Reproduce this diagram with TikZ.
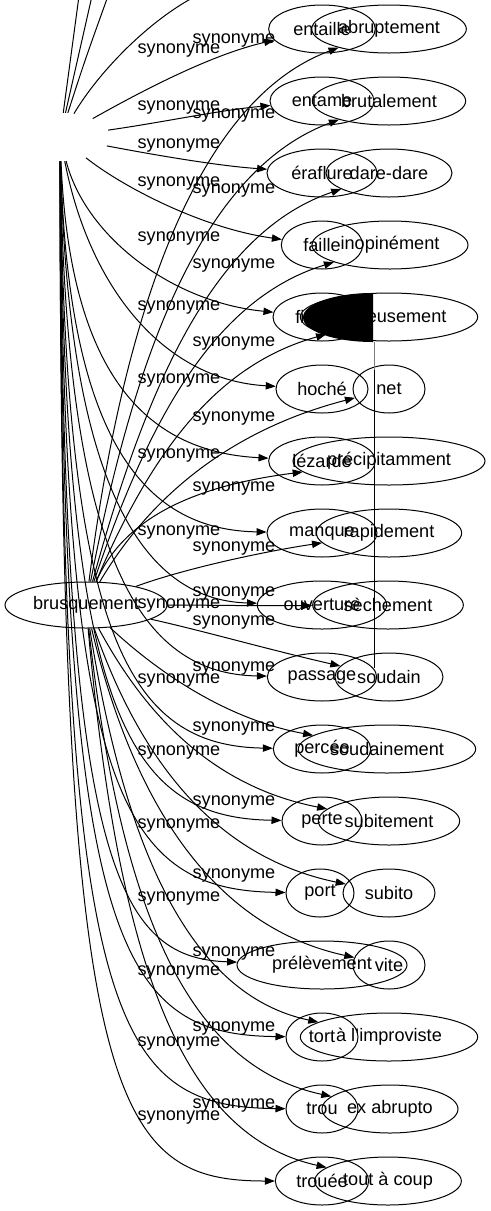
\documentclass[tikz,border=0pt]{standalone}
\usepackage{fontspec}
\setmainfont{Liberation Sans}
\usetikzlibrary{arrows.meta,shapes.geometric}
\tikzstyle{leaf} = [ellipse, draw, line width=0.75pt, minimum height=36pt, inner sep=0pt, font=\fontsize{13.6}{16}\selectfont]
\tikzstyle{hub} = [ellipse, minimum width=75pt, minimum height=36pt, inner sep=0pt]
\tikzstyle{lbl} = [inner sep=0pt, font=\fontsize{13.6}{16}\selectfont]
\tikzstyle{syn} = [line width=0.75pt, -{Triangle[length=7.5pt,width=5.5pt]}]
\tikzstyle{plain} = [line width=0.75pt]
\newcommand{\nw}[1]{\makebox[0pt]{#1}}

\begin{document}
\begin{tikzpicture}[x=0.75pt,y=-0.75pt]
\useasboundingbox (0,0) rectangle (491,1211);
% centres
\node[hub] (hub) at (60,137) {};
\node[leaf, minimum width=121.5pt, minimum height=34.5pt] (brusq) at (86,605) {\nw{brusquement}};
% noun column
\node[leaf, minimum width=80pt] (n1) at (322,29) {\nw{entaille}};
\node[leaf, minimum width=78pt] (n2) at (322,101) {\nw{entame}};
\node[leaf, minimum width=82.5pt] (n3) at (322,173) {\nw{éraflure}};
\node[leaf, minimum width=61pt] (n4) at (322,245) {\nw{faille}};
\node[leaf, minimum width=73.5pt] (n5) at (322,317) {\nw{fissure}};
\node[leaf, minimum width=69pt] (n6) at (322,389) {\nw{hoché}};
\node[leaf, minimum width=80pt] (n7) at (322,461) {\nw{lézarde}};
\node[leaf, minimum width=82.5pt] (n8) at (322,533) {\nw{manque}};
\node[leaf, minimum width=97pt] (n9) at (322,605) {\nw{ouverture}};
\node[leaf, minimum width=82pt] (n10) at (322,677) {\nw{passage}};
\node[leaf, minimum width=73pt] (n11) at (322,749) {\nw{percée}};
\node[leaf, minimum width=60pt] (n12) at (322,821) {\nw{perte}};
\node[leaf, minimum width=51pt] (n13) at (320,893) {\nw{port}};
\node[leaf, minimum width=127.5pt] (n14) at (322,965) {\nw{prélèvement}};
\node[leaf, minimum width=54pt] (n15) at (322,1037) {\nw{tort}};
\node[leaf, minimum width=54pt] (n16) at (322,1109) {\nw{trou}};
\node[leaf, minimum width=70pt] (n17) at (322,1181) {\nw{trouée}};
% adverb column
\node[leaf, minimum width=116pt] (r1) at (389,29) {\nw{abruptement}};
\node[leaf, minimum width=115pt] (r2) at (389,101) {\nw{brutalement}};
\node[leaf, minimum width=94.5pt] (r3) at (389,173) {\nw{dare-dare}};
\node[leaf, minimum width=117pt] (r4) at (390,245) {\nw{inopinément}};
\node[leaf, minimum width=133pt] (r5) at (389,317) {\nw{nerveusement}};
\node[leaf, minimum width=54pt] (r6) at (389,389) {\nw{net}};
\node[leaf, minimum width=144pt] (r7) at (389,461) {\nw{précipitamment}};
\node[leaf, minimum width=109pt] (r8) at (389,533) {\nw{rapidement}};
\node[leaf, minimum width=113pt] (r9) at (388,605) {\nw{sèchement}};
\node[leaf, minimum width=81pt] (r10) at (389,677) {\nw{soudain}};
\node[leaf, minimum width=133pt] (r11) at (387,749) {\nw{soudainement}};
\node[leaf, minimum width=106pt] (r12) at (389,821) {\nw{subitement}};
\node[leaf, minimum width=69pt] (r13) at (389,893) {\nw{subito}};
\node[leaf, minimum width=54pt] (r14) at (389,965) {\nw{vite}};
\node[leaf, minimum width=133pt] (r15) at (389,1037) {\nw{à l'improviste}};
\node[leaf, minimum width=102pt] (r16) at (390,1109) {\nw{ex abrupto}};
\node[leaf, minimum width=110pt] (r17) at (388,1181) {\nw{tout à coup}};
% edge labels
\node[lbl] (la1) at (179,50) {synonyme};
\node[lbl] (la2) at (179,107) {synonyme};
\node[lbl] (la3) at (179,145) {synonyme};
\node[lbl] (la4) at (179,183) {synonyme};
\node[lbl] (la5) at (179,238) {synonyme};
\node[lbl] (la6) at (179,307) {synonyme};
\node[lbl] (la7) at (179,380) {synonyme};
\node[lbl] (la8) at (179,455) {synonyme};
\node[lbl] (la9) at (179,532) {synonyme};
\node[lbl] (la10) at (179,605) {synonyme};
\node[lbl] (la11) at (179,680) {synonyme};
\node[lbl] (la12) at (179,752) {synonyme};
\node[lbl] (la13) at (179,825) {synonyme};
\node[lbl] (la14) at (179,898) {synonyme};
\node[lbl] (la15) at (179,972) {synonyme};
\node[lbl] (la16) at (179,1043) {synonyme};
\node[lbl] (la17) at (179,1117) {synonyme};
\node[lbl] (lb1) at (234,40) {synonyme};
\node[lbl] (lb2) at (234,115) {synonyme};
\node[lbl] (lb3) at (234,190) {synonyme};
\node[lbl] (lb4) at (234,265) {synonyme};
\node[lbl] (lb5) at (234,343) {synonyme};
\node[lbl] (lb6) at (234,418) {synonyme};
\node[lbl] (lb7) at (234,488) {synonyme};
\node[lbl] (lb8) at (234,548) {synonyme};
\node[lbl] (lb9) at (234,593) {synonyme};
\node[lbl] (lb10) at (234,622) {synonyme};
\node[lbl] (lb11) at (234,668) {synonyme};
\node[lbl] (lb12) at (234,728) {synonyme};
\node[lbl] (lb13) at (234,802) {synonyme};
\node[lbl] (lb14) at (234,875) {synonyme};
\node[lbl] (lb15) at (234,953) {synonyme};
\node[lbl] (lb16) at (234,1028) {synonyme};
\node[lbl] (lb17) at (234,1105) {synonyme};
% lines leaving the top
\coordinate (up1) at (79,-4);
\coordinate (up2) at (92,-4);
\coordinate (up3) at (108,-4);
\coordinate (up4) at (196,-4);
\draw[plain] (hub) -- (up1);
\draw[plain] (hub) -- (up2);
\draw[plain] (hub) .. controls (85,60) .. (up3);
\draw[plain] (hub) .. controls (100,70) and (150,20) .. (up4);
% hub to nouns
\draw[syn] (hub) .. controls (140,92) and (210,55) .. (n1);
\draw[syn] (hub) .. controls (165,122) and (220,110) .. (n2);
\draw[syn] (hub) .. controls (160,156) and (220,166) .. (n3);
\draw[syn] (hub) .. controls (120,185) and (200,228) .. (n4);
\draw[syn] (hub) .. controls (85,235) and (170,302) .. (n5);
\draw[syn] (hub) .. controls (90,290) and (165,380) .. (n6);
\draw[syn] (hub) .. controls (70,380) and (150,452) .. (n7);
\draw[syn] (hub) .. controls (68,450) and (150,530) .. (n8);
\draw[syn] (hub) .. controls (68,480) and (140,600) .. (n9);
\draw[syn] (hub) .. controls (66,560) and (140,674) .. (n10);
\draw[syn] (hub) .. controls (65,640) and (130,746) .. (n11);
\draw[syn] (hub) .. controls (64,710) and (125,818) .. (n12);
\draw[syn] (hub) .. controls (63,790) and (120,890) .. (n13);
\draw[syn] (hub) .. controls (62,860) and (115,958) .. (n14);
\draw[syn] (hub) .. controls (61,940) and (115,1035) .. (n15);
\draw[syn] (hub) .. controls (60,1020) and (110,1107) .. (n16);
\draw[syn] (hub) .. controls (60,1100) and (110,1181) .. (n17);
% brusquement to adverbs
\draw[syn] (brusq) .. controls (112,400) and (170,110) .. (r1);
\draw[syn] (brusq) .. controls (128,390) and (190,175) .. (r2);
\draw[syn] (brusq) .. controls (140,410) and (205,235) .. (r3);
\draw[syn] (brusq) .. controls (145,430) and (210,300) .. (r4);
\draw[syn] (brusq) .. controls (150,455) and (215,365) .. (r5);
\draw[syn] (brusq) .. controls (160,480) and (250,425) .. (r6);
\draw[syn] (brusq) .. controls (125,515) and (200,485) .. (r7);
\draw[syn] (brusq) .. controls (180,570) and (260,552) .. (r8);
\draw[syn] (brusq) .. controls (200,605) and (260,606) .. (r9);
\draw[syn] (brusq) .. controls (200,630) and (270,650) .. (r10);
\draw[syn] (brusq) .. controls (150,665) and (220,718) .. (r11);
\draw[syn] (brusq) .. controls (140,705) and (205,785) .. (r12);
\draw[syn] (brusq) .. controls (135,745) and (205,855) .. (r13);
\draw[syn] (brusq) .. controls (130,790) and (205,925) .. (r14);
\draw[syn] (brusq) .. controls (125,850) and (190,995) .. (r15);
\draw[syn] (brusq) .. controls (120,905) and (185,1065) .. (r16);
\draw[syn] (brusq) .. controls (118,960) and (180,1135) .. (r17);
% black blot and thin rule
\fill (373,293) .. controls (334,293) and (303,304) .. (303,317.5) .. controls (303,331) and (334,342) .. (373,342) -- cycle;
\draw[gray, line width=0.4pt] (374,342) -- (374,370);
\draw[line width=0.5pt] (374,370) -- (374,668);
\end{tikzpicture}
\end{document}
